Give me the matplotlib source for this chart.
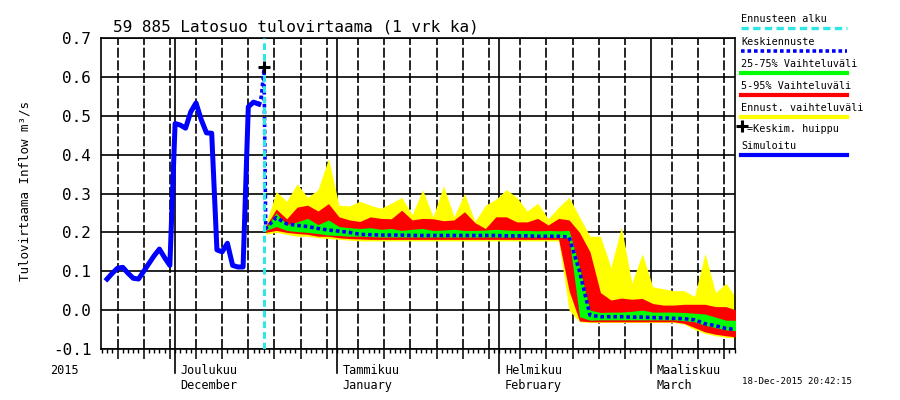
import datetime as dt
import numpy as np
import pandas as pd
import matplotlib
matplotlib.use("Agg")
import matplotlib.pyplot as plt
import matplotlib.dates as mdates
from matplotlib.lines import Line2D
from matplotlib.ticker import NullFormatter
from matplotlib.transforms import blended_transform_factory

plt.rcParams["font.family"] = ["DejaVu Sans Mono"]
plt.rcParams["axes.unicode_minus"] = False

TITLE = "59 885 Latosuo tulovirtaama (1 vrk ka)"
YLABEL = "Tulovirtaama Inflow m³/s"
STAMP = "18-Dec-2015 20:42:15"

# simulated inflow, one value a day from 18 Nov 2015
sim_dates = pd.date_range("2015-11-18", periods=30, freq="D")
sim_values = [0.08, 0.095, 0.108, 0.11, 0.095, 0.082, 0.08, 0.1, 0.12, 0.14,
              0.157, 0.135, 0.115, 0.48, 0.476, 0.468, 0.51, 0.533, 0.49, 0.456,
              0.455, 0.155, 0.15, 0.172, 0.115, 0.111, 0.111, 0.523, 0.535, 0.53]

# mean forecast just before the forecast start
pre_dates = [dt.datetime(2015, 12, 17), dt.datetime(2015, 12, 17, 12), dt.datetime(2015, 12, 18)]
pre_values = [0.527, 0.55, 0.62]

peak_date = dt.datetime(2015, 12, 18)
peak_value = 0.626
forecast_start = dt.datetime(2015, 12, 18)

# forecast, every second day
fc_dates = pd.date_range("2015-12-18 08:00", periods=46, freq="2D")
fc_max = [0.22, 0.305, 0.28, 0.325, 0.29, 0.31, 0.39, 0.27, 0.268, 0.28,
          0.27, 0.262, 0.275, 0.29, 0.245, 0.31, 0.24, 0.32, 0.24, 0.30,
          0.228, 0.27, 0.285, 0.31, 0.29, 0.255, 0.275, 0.235, 0.265, 0.29,
          0.24, 0.19, 0.19, 0.11, 0.214, 0.07, 0.145, 0.06, 0.055, 0.05,
          0.05, 0.035, 0.146, 0.045, 0.069, 0.03]
fc_p95 = [0.215, 0.26, 0.235, 0.265, 0.27, 0.255, 0.274, 0.24, 0.232, 0.228,
          0.24, 0.236, 0.235, 0.257, 0.232, 0.236, 0.235, 0.23, 0.232, 0.253,
          0.225, 0.21, 0.24, 0.24, 0.227, 0.227, 0.236, 0.219, 0.236, 0.232,
          0.2, 0.15, 0.045, 0.026, 0.031, 0.028, 0.03, 0.017, 0.013, 0.013,
          0.015, 0.015, 0.015, 0.009, 0.009, 0.0]
fc_p75 = [0.21, 0.25, 0.22, 0.227, 0.236, 0.22, 0.232, 0.215, 0.212, 0.21,
          0.212, 0.208, 0.21, 0.205, 0.208, 0.21, 0.205, 0.206, 0.208, 0.205,
          0.205, 0.206, 0.208, 0.206, 0.205, 0.205, 0.204, 0.205, 0.204, 0.205,
          0.11, 0.0, -0.006, -0.005, -0.005, -0.003, 0.0, -0.005, -0.005, -0.005,
          -0.006, -0.008, -0.01, -0.018, -0.026, -0.026]
fc_mean = [0.21, 0.238, 0.222, 0.218, 0.215, 0.21, 0.206, 0.203, 0.2, 0.195,
           0.194, 0.193, 0.193, 0.193, 0.192, 0.192, 0.192, 0.192, 0.192, 0.192,
           0.192, 0.192, 0.192, 0.191, 0.191, 0.191, 0.19, 0.19, 0.19, 0.188,
           0.1, -0.013, -0.017, -0.017, -0.017, -0.018, -0.018, -0.019, -0.02, -0.021,
           -0.022, -0.025, -0.035, -0.04, -0.047, -0.05]
fc_p25 = [0.205, 0.215, 0.205, 0.202, 0.2, 0.197, 0.193, 0.192, 0.19, 0.19,
          0.189, 0.188, 0.188, 0.188, 0.188, 0.188, 0.188, 0.188, 0.188, 0.188,
          0.188, 0.188, 0.188, 0.188, 0.188, 0.188, 0.188, 0.188, 0.187, 0.186,
          -0.017, -0.026, -0.025, -0.025, -0.025, -0.025, -0.025, -0.025, -0.025, -0.025,
          -0.027, -0.03, -0.039, -0.045, -0.051, -0.053]
fc_p5 = [0.2, 0.205, 0.2, 0.197, 0.195, 0.19, 0.19, 0.186, 0.184, 0.183,
         0.182, 0.182, 0.182, 0.182, 0.182, 0.182, 0.182, 0.182, 0.182, 0.182,
         0.182, 0.182, 0.182, 0.182, 0.182, 0.182, 0.182, 0.182, 0.182, 0.05,
         -0.028, -0.03, -0.03, -0.03, -0.03, -0.03, -0.03, -0.03, -0.03, -0.03,
         -0.034, -0.045, -0.056, -0.062, -0.066, -0.069]
fc_min = [0.195, 0.2, 0.195, 0.19, 0.19, 0.186, 0.184, 0.182, 0.18, 0.178,
          0.178, 0.178, 0.178, 0.178, 0.178, 0.178, 0.178, 0.178, 0.178, 0.178,
          0.178, 0.178, 0.178, 0.178, 0.178, 0.178, 0.178, 0.178, 0.178, 0.0,
          -0.03, -0.032, -0.032, -0.032, -0.032, -0.032, -0.032, -0.032, -0.032, -0.032,
          -0.036, -0.05, -0.06, -0.066, -0.07, -0.072]

month_starts = [dt.datetime(2015, 12, 1), dt.datetime(2016, 1, 1),
                dt.datetime(2016, 2, 1), dt.datetime(2016, 3, 1)]
month_labels = ["Joulukuu\nDecember", "Tammikuu\nJanuary",
                "Helmikuu\nFebruary", "Maaliskuu\nMarch"]

CYAN = "#2ee6e6"
BLUE = "#0000ff"
GREEN = "#00ff00"
RED = "#ff0000"
YELLOW = "#ffff00"

W, H = 900, 400
fig = plt.figure(figsize=(9, 4), dpi=100)
ax = fig.add_axes([101 / W, 1 - 349 / H, 634 / W, 311 / H])

ax.fill_between(fc_dates, fc_min, fc_max, color=YELLOW, lw=0, zorder=2)
ax.fill_between(fc_dates, fc_p5, fc_p95, color=RED, lw=0, zorder=3)
ax.fill_between(fc_dates, fc_p25, fc_p75, color=GREEN, lw=0, zorder=4)

ax.plot(sim_dates, sim_values, color=BLUE, lw=3.6, solid_joinstyle="round", zorder=5)
mean_x = list(pre_dates) + list(fc_dates)
mean_y = list(pre_values) + list(fc_mean)
ax.plot(mean_x, mean_y, color=BLUE, lw=2.6, linestyle=(0, (1, 0.8)),
        dash_capstyle="butt", zorder=6)
ax.axvline(forecast_start, color=CYAN, lw=2.2, linestyle=(0, (2.2, 1.3)), zorder=7)
ax.plot([peak_date], [peak_value], marker="+", color="black", ms=9, mew=2.2, zorder=8)

ax.set_xlim(dt.datetime(2015, 11, 16, 20), dt.datetime(2016, 3, 17, 1, 30))
ax.set_ylim(-0.1, 0.7)

ax.xaxis.set_major_locator(mdates.DayLocator(bymonthday=[5, 10, 15, 20, 25, 30]))
ax.xaxis.set_minor_locator(mdates.DayLocator())
ax.xaxis.set_major_formatter(NullFormatter())
ax.tick_params(axis="x", which="major", length=7, width=1.1, direction="out")
ax.tick_params(axis="x", which="minor", length=3, width=1.0, direction="out")
ax.grid(axis="x", which="major", color="black", lw=1.2, linestyle=(0, (6, 1.6)), zorder=1)

yticks = np.round(np.arange(-0.1, 0.71, 0.1), 1)
ax.set_yticks(yticks)
ax.set_yticklabels([f"{v:.1f}" for v in yticks])
ax.tick_params(axis="y", length=0, pad=7, labelsize=11.5)
ax.grid(axis="y", color="black", lw=1.2, zorder=1)
ax.set_axisbelow(True)
for sp in ax.spines.values():
    sp.set_linewidth(1.2)

trans = blended_transform_factory(ax.transData, ax.transAxes)
for m, label in zip(month_starts, month_labels):
    mx = mdates.date2num(m)
    ax.axvline(mx, color="black", lw=1.2, zorder=1)
    ax.plot([mx, mx], [0, -0.077], transform=trans, clip_on=False, color="black", lw=1.2)
    ax.annotate(label, xy=(mx, 0), xycoords=trans, xytext=(4, -11),
                textcoords="offset points", va="top", ha="left",
                fontsize=8.6, linespacing=1.15)

fig.text(50 / W, 1 - 370 / H, "2015", fontsize=8.6, va="center", ha="left")
fig.text(113 / W, 1 - 27.5 / H, TITLE, fontsize=11.5, va="center", ha="left")
fig.text(25 / W, 1 - 191 / H, YLABEL, fontsize=9, rotation=90, va="center", ha="center")
fig.text(742 / W, 1 - 382 / H, STAMP, fontsize=6.6, va="center", ha="left")

# legend on the right
legend_items = [
    ("Ennusteen alku", 19, dict(color=CYAN, lw=2.4, linestyle=(0, (2.2, 1.3)))),
    ("Keskiennuste", 42, dict(color=BLUE, lw=2.6, linestyle=(0, (1, 0.8)), dash_capstyle="butt")),
    ("25-75% Vaihteluväli", 64, dict(color=GREEN, lw=3)),
    ("5-95% Vaihteluväli", 86, dict(color=RED, lw=3)),
    ("Ennust. vaihteluväli", 108, dict(color=YELLOW, lw=3)),
    ("Simuloitu", 146, dict(color=BLUE, lw=3)),
]
for text, ty, style in legend_items:
    fig.text(741 / W, 1 - ty / H, text, fontsize=7.3, va="center", ha="left")
    ly = 1 - (ty + 9) / H
    fig.add_artist(Line2D([741 / W, 847 / W], [ly, ly], transform=fig.transFigure, **style))
fig.add_artist(Line2D([742 / W], [1 - 126 / H], marker="+", color="black", ms=8, mew=2.2,
                      transform=fig.transFigure))
fig.text(747 / W, 1 - 129 / H, "=Keskim. huippu", fontsize=7.3, va="center", ha="left")

fig.savefig("out.png", dpi=100)
plt.close(fig)
